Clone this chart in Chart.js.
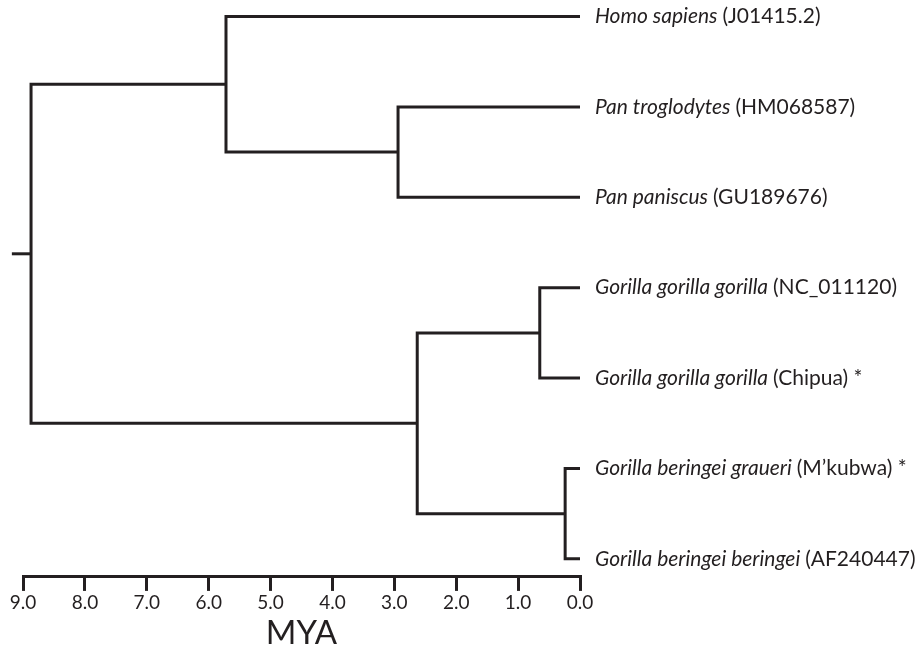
<!DOCTYPE html>
<html>
<head>
<meta charset="utf-8">
<title>Hominid mtDNA divergence</title>
<script src="https://cdn.jsdelivr.net/npm/chart.js@4/dist/chart.umd.min.js"></script>
<style>
  html, body { margin: 0; padding: 0; background: #fff; }
  #wrap { width: 921px; height: 652px; }
</style>
</head>
<body>
<div id="wrap"><canvas id="tree"></canvas></div>
<script>
/* ===== DATA ===== */
// leaves, top to bottom
const leafSpecies = [
  "Homo sapiens",
  "Pan troglodytes",
  "Pan paniscus",
  "Gorilla gorilla gorilla",
  "Gorilla gorilla gorilla",
  "Gorilla beringei graueri",
  "Gorilla beringei beringei",
];
const leafAccessions = ["J01415.2", "HM068587", "GU189676", "NC_011120", "Chipua", "M\u2019kubwa", "AF240447"];
const leafStars = [false, false, false, false, true, true, false];

// internal nodes: age in million years, children ("L<n>" = leaf, "N<n>" = node)
const nodeNames = ["root", "homoPan", "pan", "gorilla", "gorillaGorilla", "gorillaBeringei"];
const nodeAges = [8.87, 5.72, 2.94, 2.63, 0.65, 0.24];
const nodeChildren = [
  ["N1", "N3"],
  ["L0", "N2"],
  ["L1", "L2"],
  ["N4", "N5"],
  ["L3", "L4"],
  ["L5", "L6"],
];
const rootStubAge = 9.18;

const xTicks = [9, 8, 7, 6, 5, 4, 3, 2, 1, 0];

/* ===== BUILD TREE SEGMENTS ===== */
const INK = "#231f20";
const FONT = "Lato";

function childAge(ref) {
  return ref[0] === "L" ? 0 : nodeAges[+ref.slice(1)];
}
function childY(ref) {
  if (ref[0] === "L") return +ref.slice(1);
  const kids = nodeChildren[+ref.slice(1)];
  return (childY(kids[0]) + childY(kids[1])) / 2;
}

const datasets = nodeNames.map((name, i) => {
  const [a, b] = nodeChildren[i];
  return {
    label: name,
    data: [
      { x: childAge(a), y: childY(a) },
      { x: nodeAges[i], y: childY(a) },
      { x: nodeAges[i], y: childY(b) },
      { x: childAge(b), y: childY(b) },
    ],
  };
});
const rootY = childY("N0");
datasets.push({
  label: "stub",
  data: [
    { x: nodeAges[0], y: rootY },
    { x: rootStubAge, y: rootY },
  ],
});
datasets.forEach((d) => {
  Object.assign(d, {
    borderColor: INK,
    borderWidth: 3,
    borderJoinStyle: "miter",
    borderCapStyle: "butt",
    pointRadius: 0,
    tension: 0,
    fill: false,
    clip: false,
  });
});

/* ===== LEAF LABELS ===== */
const leafLabels = {
  id: "leafLabels",
  afterDatasetsDraw(chart) {
    const { ctx, scales } = chart;
    const x0 = scales.x.getPixelForValue(0) + 15;
    ctx.save();
    ctx.fillStyle = INK;
    ctx.textBaseline = "middle";
    leafSpecies.forEach((sp, i) => {
      const y = scales.y.getPixelForValue(i);
      ctx.font = "italic 21px " + FONT;
      ctx.fillText(sp, x0, y);
      const w = ctx.measureText(sp + " ").width;
      ctx.font = "21px " + FONT;
      ctx.fillText("(" + leafAccessions[i] + ")" + (leafStars[i] ? " *" : ""), x0 + w, y);
    });
    ctx.restore();
  },
};

/* ===== CHART ===== */
new Chart(document.getElementById("tree"), {
  type: "line",
  data: { datasets },
  plugins: [leafLabels],
  options: {
    responsive: true,
    maintainAspectRatio: false,
    animation: false,
    layout: { padding: { top: 3, right: 341, left: 23, bottom: 0 } },
    plugins: { legend: { display: false }, tooltip: { enabled: false } },
    scales: {
      x: {
        type: "linear",
        reverse: true,
        min: 0,
        max: 9,
        afterBuildTicks: (axis) => {
          axis.ticks = xTicks.map((v) => ({ value: v }));
        },
        ticks: {
          color: INK,
          font: { family: FONT, size: 19 },
          padding: 1,
          maxRotation: 0,
          callback: (v) => Number(v).toFixed(1),
        },
        grid: {
          drawOnChartArea: false,
          drawTicks: true,
          tickLength: 14,
          color: INK,
          lineWidth: 3,
        },
        border: { display: true, color: INK, width: 3 },
        title: {
          display: true,
          text: "MYA",
          color: INK,
          font: { family: FONT, size: 33, lineHeight: 1.1 },
          padding: { top: 0, bottom: 0 },
        },
      },
      y: {
        type: "linear",
        display: false,
        reverse: true,
        min: -0.15,
        max: 6.2,
      },
    },
  },
});
</script>
</body>
</html>
